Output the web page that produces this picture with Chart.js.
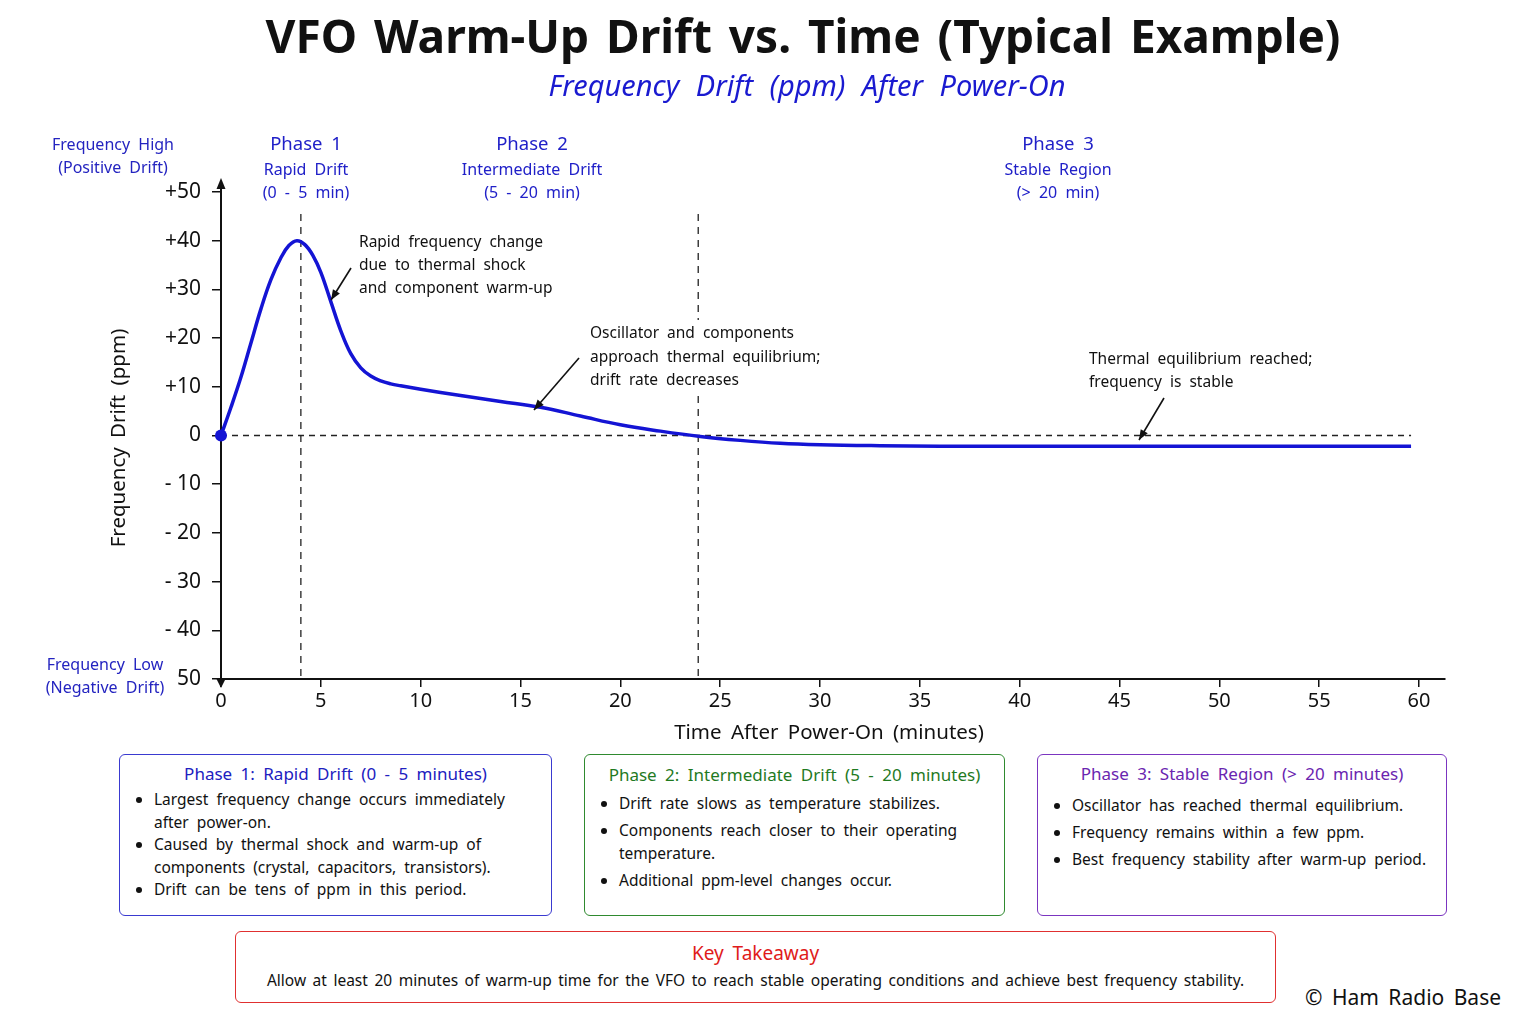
<!DOCTYPE html>
<html>
<head>
<meta charset="utf-8">
<script src="https://cdn.jsdelivr.net/npm/chart.js@4.4.1/dist/chart.umd.min.js"></script>
<style>
  body { margin: 0; background: #fff; font-family: "Noto Sans", sans-serif; }
  #wrap { position: relative; width: 1536px; height: 1024px; overflow: hidden; }
  #title { position: absolute; left: 0; width: 1606px; top: 4px; text-align: center; font-size: 46px; font-weight: bold; color: #111; word-spacing: 5px; }
  #sub { position: absolute; left: 0; width: 1614px; top: 65px; text-align: center; font-size: 29px; font-style: italic; color: #1a1ad0; word-spacing: 9px; }
  #chartBox { position: absolute; left: 0; top: 0; width: 1536px; height: 745px; }
  .box { position: absolute; border: 1.5px solid; border-radius: 6px; box-sizing: border-box; font-size: 15.5px; color: #111; word-spacing: 4px; }
  .box h3 { margin: 0; font-weight: normal; font-size: 17px; text-align: center; }
  .box ul { margin: 0; padding-left: 34px; }
  .box li { padding-left: 0; }
  #b1 { left: 119px; top: 754px; width: 433px; height: 162px; border-color: #3a3ad0; }
  #b1 h3 { color: #2020c0; margin-top: 7px; }
  #b1 ul { margin-top: 3px; line-height: 22.5px; }
  #b2 { left: 584px; top: 754px; width: 421px; height: 162px; border-color: #2f8a2f; }
  #b2 h3 { color: #1f7a1f; margin-top: 8px; }
  #b2 ul { margin-top: 6px; line-height: 23.5px; }
  #b2 li { margin-bottom: 3px; }
  #b3 { left: 1037px; top: 754px; width: 410px; height: 162px; border-color: #7b35c0; }
  #b3 h3 { color: #6a25b0; margin-top: 7px; }
  #b3 ul { margin-top: 7px; line-height: 27px; }
  #key { position: absolute; left: 235px; top: 931px; width: 1041px; height: 72px; border: 1.5px solid #e03030; border-radius: 6px; box-sizing: border-box; text-align: center; word-spacing: 4px; }
  #key h3 { margin: 8px 0 0 0; font-weight: normal; font-size: 19px; color: #e01b1b; }
  #key p { margin: 3px 0 0 0; font-size: 15.5px; color: #111; word-spacing: 2.5px; }
  #copy { position: absolute; left: 1305px; top: 983px; font-size: 21px; color: #111; word-spacing: 4px; }
</style>
</head>
<body>
<div id="wrap">
  <div id="chartBox"><canvas id="grafico"></canvas></div>
  <div id="title">VFO Warm-Up Drift vs. Time (Typical Example)</div>
  <div id="sub">Frequency Drift (ppm) After Power-On</div>

  <div class="box" id="b1">
    <h3>Phase 1: Rapid Drift (0 - 5 minutes)</h3>
    <ul>
      <li>Largest frequency change occurs immediately<br>after power-on.</li>
      <li>Caused by thermal shock and warm-up of<br>components (crystal, capacitors, transistors).</li>
      <li>Drift can be tens of ppm in this period.</li>
    </ul>
  </div>
  <div class="box" id="b2">
    <h3>Phase 2: Intermediate Drift (5 - 20 minutes)</h3>
    <ul>
      <li>Drift rate slows as temperature stabilizes.</li>
      <li>Components reach closer to their operating<br>temperature.</li>
      <li>Additional ppm-level changes occur.</li>
    </ul>
  </div>
  <div class="box" id="b3">
    <h3>Phase 3: Stable Region (&gt; 20 minutes)</h3>
    <ul>
      <li>Oscillator has reached thermal equilibrium.</li>
      <li>Frequency remains within a few ppm.</li>
      <li>Best frequency stability after warm-up period.</li>
    </ul>
  </div>
  <div id="key">
    <h3>Key Takeaway</h3>
    <p>Allow at least 20 minutes of warm-up time for the VFO to reach stable operating conditions and achieve best frequency stability.</p>
  </div>
  <div id="copy">© Ham Radio Base</div>
</div>

<script>
// dados
const minutos = [0, 0.5, 1, 1.5, 2, 2.5, 3, 3.4, 3.8, 4.2, 4.6, 5, 5.5, 6, 6.5, 7, 7.5, 8, 8.5, 9, 10, 12, 14, 16, 18, 20, 22, 24, 26, 28, 30, 33, 36, 40, 45, 50, 55, 59.6];
const driftPpm = [0, 5.8, 12, 19, 26, 32, 36.5, 39, 40, 39.2, 37, 33.5, 27.5, 21.5, 16.8, 13.9, 12.2, 11.2, 10.6, 10.2, 9.5, 8.2, 7.0, 5.8, 4.0, 2.2, 0.9, -0.2, -1.0, -1.6, -1.9, -2.1, -2.2, -2.2, -2.2, -2.2, -2.2, -2.2];
const xTicks = [0, 5, 10, 15, 20, 25, 30, 35, 40, 45, 50, 55, 60];
const yTicks = [50, 40, 30, 20, 10, 0, -10, -20, -30, -40, -50];
const yTickLabels = ['+50', '+40', '+30', '+20', '+10', '0', '- 10', '- 20', '- 30', '- 40', '50'];
const limitesFase = [4.0, 23.9]; // linhas tracejadas

const FONTE = '"Noto Sans", sans-serif';
const AZUL = '#1414d4';

function texto(ctx, s, x, y, size, color, align, extra) {
  ctx.save();
  ctx.font = (extra || '') + ' ' + size + 'px ' + FONTE;
  ctx.fillStyle = color;
  ctx.textAlign = align || 'left';
  ctx.textBaseline = 'middle';
  ctx.wordSpacing = '4px';
  ctx.fillText(s, x, y);
  ctx.restore();
}

function seta(ctx, x1, y1, x2, y2) {
  ctx.save();
  ctx.strokeStyle = '#111';
  ctx.fillStyle = '#111';
  ctx.lineWidth = 1.6;
  ctx.beginPath(); ctx.moveTo(x1, y1); ctx.lineTo(x2, y2); ctx.stroke();
  const ang = Math.atan2(y2 - y1, x2 - x1);
  ctx.beginPath();
  ctx.moveTo(x2, y2);
  ctx.lineTo(x2 - 11 * Math.cos(ang - 0.38), y2 - 11 * Math.sin(ang - 0.38));
  ctx.lineTo(x2 - 11 * Math.cos(ang + 0.38), y2 - 11 * Math.sin(ang + 0.38));
  ctx.closePath(); ctx.fill();
  ctx.restore();
}

const decoracao = {
  id: 'decoracao',
  beforeDatasetsDraw(chart) {
    const { ctx, scales: { x, y }, chartArea: a } = chart;
    ctx.save();
    ctx.strokeStyle = '#222';
    ctx.lineWidth = 1.3;
    // linha do zero
    ctx.setLineDash([6, 5]);
    ctx.beginPath(); ctx.moveTo(a.left, y.getPixelForValue(0)); ctx.lineTo(x.getPixelForValue(59.6), y.getPixelForValue(0)); ctx.stroke();
    // limites das fases
    ctx.setLineDash([7, 6]);
    limitesFase.forEach(t => {
      const px = x.getPixelForValue(t);
      ctx.beginPath(); ctx.moveTo(px, a.top + 22); ctx.lineTo(px, a.bottom); ctx.stroke();
    });
    ctx.restore();
  },
  afterDraw(chart) {
    const { ctx, scales: { x, y }, chartArea: a } = chart;
    // setas dos eixos
    ctx.save();
    ctx.fillStyle = '#111'; ctx.strokeStyle = '#111'; ctx.lineWidth = 2;
    ctx.beginPath(); ctx.moveTo(a.left, a.top); ctx.lineTo(a.left, a.top - 8); ctx.stroke();
    ctx.beginPath(); ctx.moveTo(a.left, a.top - 14); ctx.lineTo(a.left - 4.5, a.top - 3); ctx.lineTo(a.left + 4.5, a.top - 3); ctx.closePath(); ctx.fill();
    ctx.beginPath(); ctx.moveTo(a.left, a.bottom + 9); ctx.lineTo(a.left - 4.5, a.bottom); ctx.lineTo(a.left + 4.5, a.bottom); ctx.closePath(); ctx.fill();
    ctx.restore();

    // titulos dos eixos
    ctx.save();
    ctx.translate(119, 438);
    ctx.rotate(-Math.PI / 2);
    texto(ctx, 'Frequency Drift (ppm)', 0, 0, 20.5, '#111', 'center');
    ctx.restore();
    texto(ctx, 'Time After Power-On (minutes)', 829, 733, 20.5, '#111', 'center');

    // rotulos laterais
    texto(ctx, 'Frequency High', 113, 145, 16, '#2424c0', 'center');
    texto(ctx, '(Positive Drift)', 113, 168, 16, '#2424c0', 'center');
    texto(ctx, 'Frequency Low', 105, 665, 16, '#2424c0', 'center');
    texto(ctx, '(Negative Drift)', 105, 688, 16, '#2424c0', 'center');

    // fases
    const fases = [
      [306, 'Phase 1', 'Rapid Drift', '(0 - 5 min)'],
      [532, 'Phase 2', 'Intermediate Drift', '(5 - 20 min)'],
      [1058, 'Phase 3', 'Stable Region', '(> 20 min)']
    ];
    fases.forEach(f => {
      texto(ctx, f[1], f[0], 145, 18.5, '#2020c8', 'center');
      texto(ctx, f[2], f[0], 170, 16, '#2020c8', 'center');
      texto(ctx, f[3], f[0], 193, 16, '#2020c8', 'center');
    });

    // anotacoes
    ['Rapid frequency change', 'due to thermal shock', 'and component warm-up']
      .forEach((s, i) => texto(ctx, s, 359, 243 + i * 23, 15.5, '#111'));
    seta(ctx, 351, 268, 331, 300);

    ctx.save(); ctx.fillStyle = '#fff'; ctx.fillRect(588, 320, 225, 74); ctx.restore();
    ['Oscillator and components', 'approach thermal equilibrium;', 'drift rate decreases']
      .forEach((s, i) => texto(ctx, s, 590, 334 + i * 23.5, 15.5, '#111'));
    seta(ctx, 579, 358, 534, 410);

    ['Thermal equilibrium reached;', 'frequency is stable']
      .forEach((s, i) => texto(ctx, s, 1089, 360 + i * 23, 15.5, '#111'));
    seta(ctx, 1164, 398, 1139, 440);
  }
};

const ctx = document.getElementById('grafico');
new Chart(ctx, {
  type: 'line',
  data: {
    labels: minutos,
    datasets: [{
      data: minutos.map((t, i) => ({ x: t, y: driftPpm[i] })),
      borderColor: AZUL,
      backgroundColor: AZUL,
      borderWidth: 3.5,
      tension: 0.4, // curva suave
      pointRadius: c => c.dataIndex === 0 ? 6 : 0, // ponto inicial
      pointBorderWidth: 0,
      clip: false
    }]
  },
  options: {
    responsive: true,
    maintainAspectRatio: false,
    animation: false,
    layout: { padding: { left: 0, top: 192, right: 91, bottom: 0 } },
    plugins: { legend: { display: false }, tooltip: { enabled: false } },
    scales: {
      x: {
        type: 'linear',
        min: 0, max: 61.3,
        afterBuildTicks: s => { s.ticks = xTicks.map(v => ({ value: v })); },
        afterFit: s => { s.height = 745 - 679; },
        border: { display: true, color: '#111', width: 2 },
        grid: { display: true, drawOnChartArea: false, tickLength: 8, color: '#111', lineWidth: 1.5 },
        ticks: { color: '#111', font: { size: 20, family: FONTE }, padding: 2, maxRotation: 0 }
      },
      y: {
        min: -50, max: 50,
        afterBuildTicks: s => { s.ticks = yTicks.map(v => ({ value: v })); },
        afterFit: s => { s.width = 221; },
        border: { display: true, color: '#111', width: 2 },
        grid: { display: true, drawOnChartArea: false, tickLength: 9, color: '#111', lineWidth: 1.5 },
        ticks: {
          color: '#111', font: { size: 21, family: FONTE }, padding: 11,
          callback: v => yTickLabels[yTicks.indexOf(v)]
        }
      }
    }
  },
  plugins: [decoracao]
});
</script>
</body>
</html>
